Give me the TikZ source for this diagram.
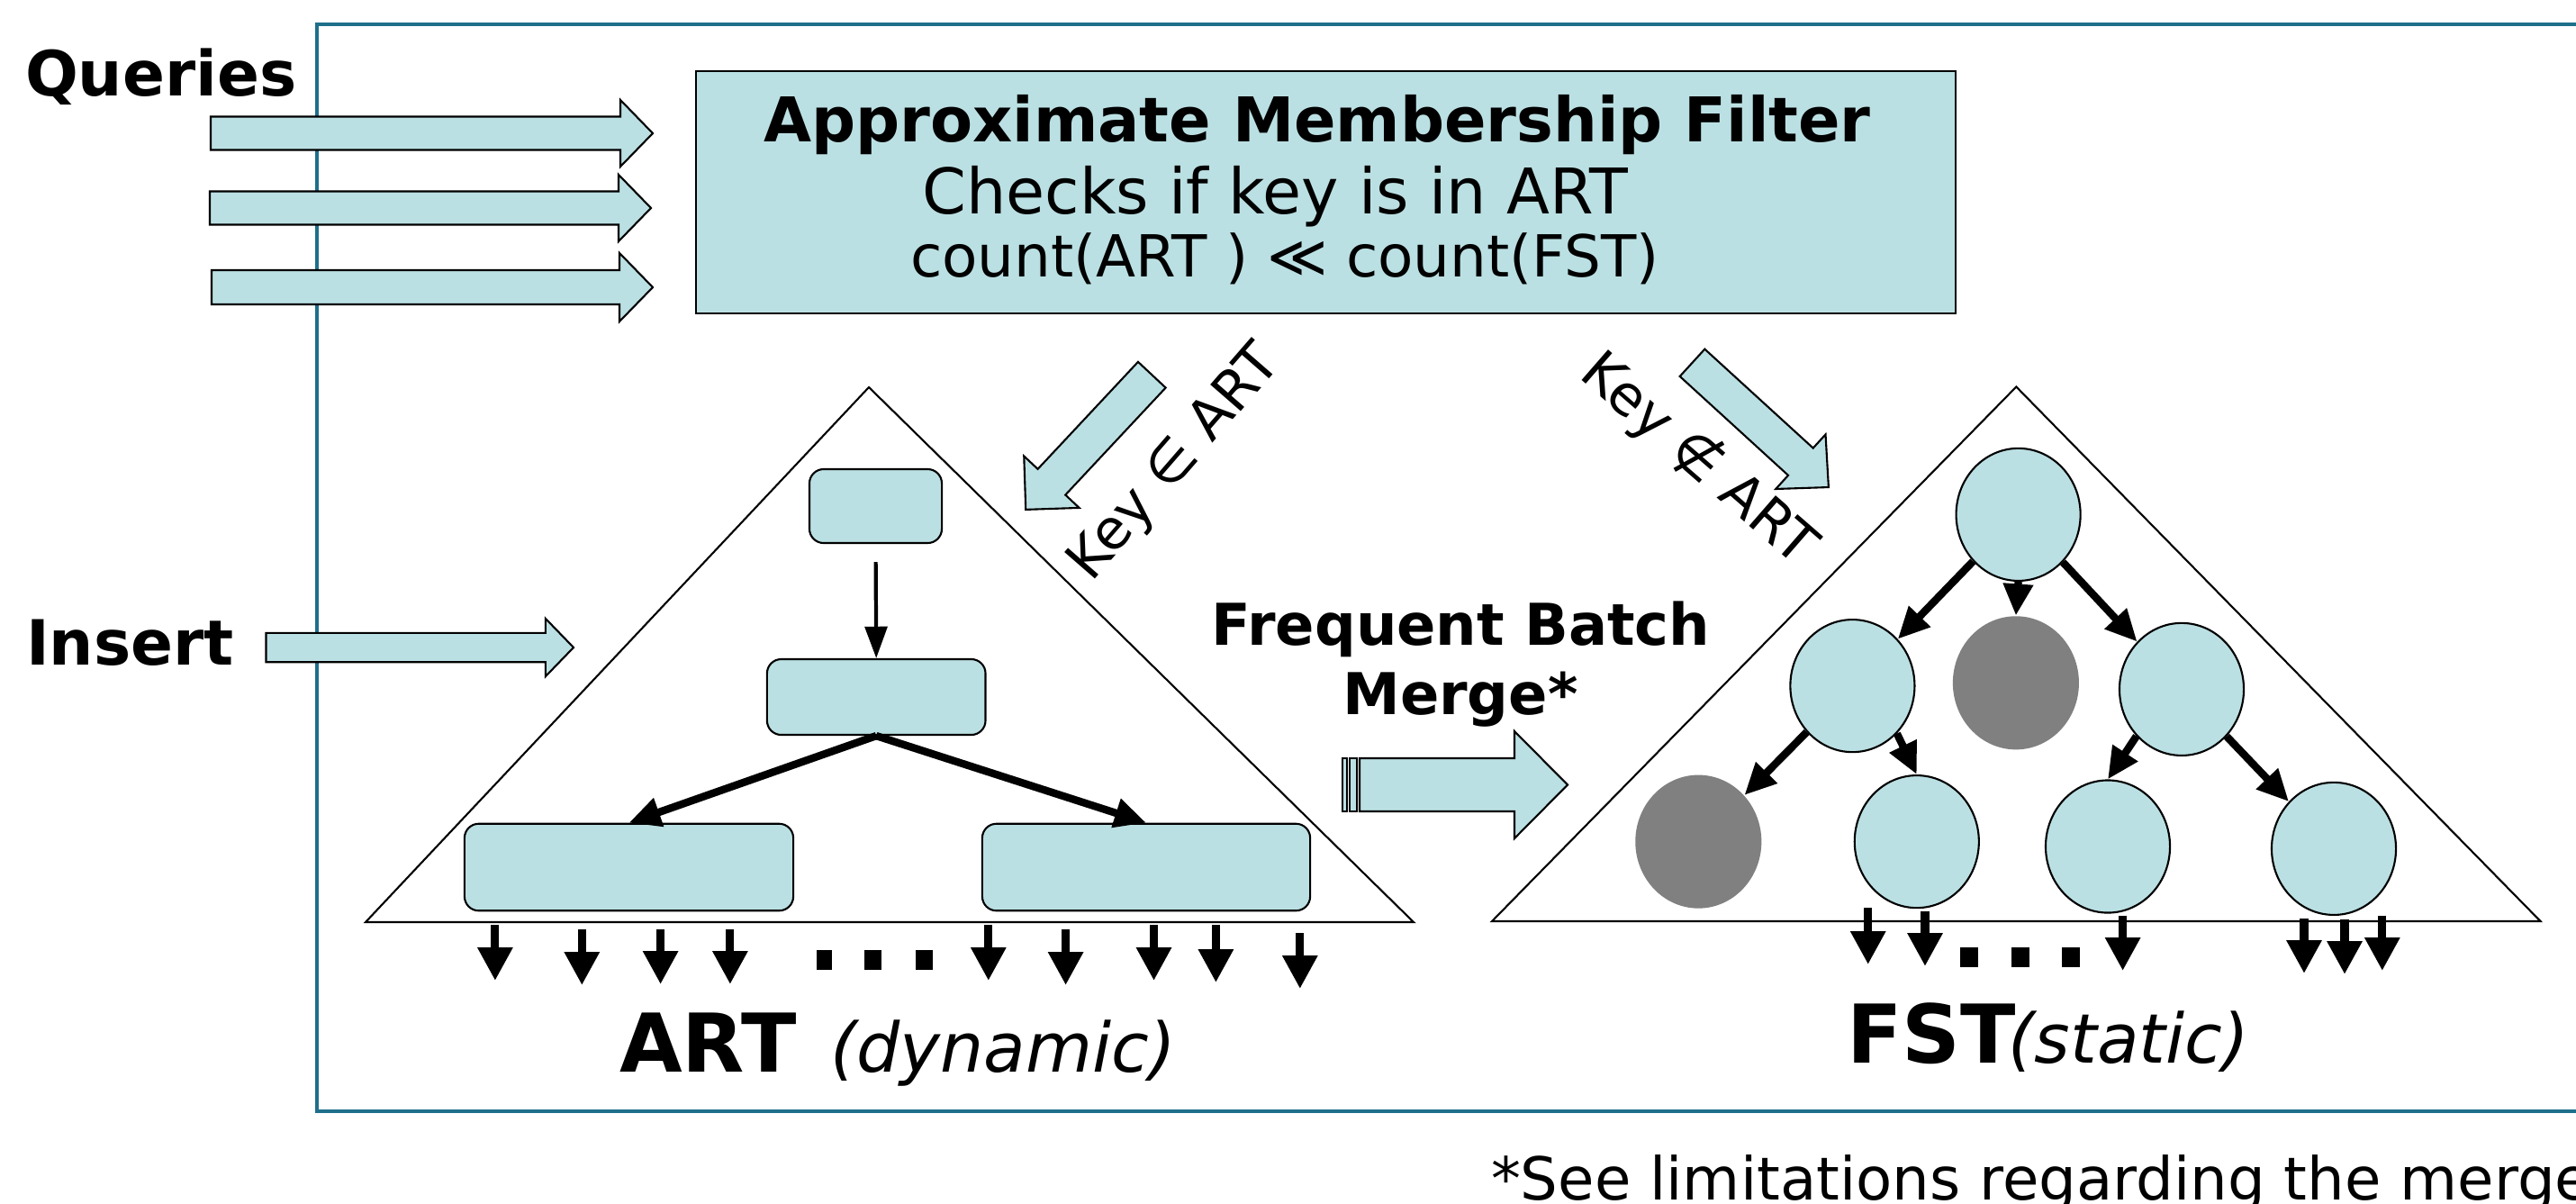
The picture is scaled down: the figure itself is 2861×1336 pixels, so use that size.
\documentclass[tikz,border=0pt]{standalone}
\usepackage{fontspec}
\setmainfont{DejaVu Sans}
\usetikzlibrary{arrows.meta,shapes.geometric}

\definecolor{boxfill}{HTML}{BBE0E3}
\definecolor{framecol}{HTML}{1F6F8B}
\definecolor{leafgrey}{HTML}{808080}

\tikzset{
  txt/.style={inner sep=0pt, outer sep=0pt},
  bigbold/.style={txt, font=\bfseries\fontsize{19.7pt}{24pt}\selectfont},
  arrowbody/.style={draw=black, fill=boxfill, line width=0.6pt, line join=miter},
  artbox/.style={draw=black, fill=boxfill, line width=0.6pt, rounded corners=4.5pt, inner sep=0pt},
  fstnode/.style={ellipse, draw=black, fill=boxfill, line width=0.6pt, inner sep=0pt,
                  minimum width=1.38cm, minimum height=1.47cm},
  fstgone/.style={ellipse, draw=none, fill=leafgrey, inner sep=0pt,
                  minimum width=1.40cm, minimum height=1.48cm},
  treeside/.style={draw=black, line width=0.6pt, line join=miter},
  thinlink/.style={draw=black, line width=1.2pt, -{Triangle[length=10pt,width=7pt]}},
  thicklink/.style={draw=black, line width=2.4pt, -{Triangle[length=10pt,width=9pt]}},
  leafarrow/.style={draw=black, line width=2.6pt, -{Triangle[length=10.5pt,width=10.5pt]}},
  dotmark/.style={fill=black},
  pics/blockarrow/.style n args={4}{code={
    \draw[arrowbody] (0,-#2) -- ({#1-#4},-#2) -- ({#1-#4},-#3) -- (#1,0)
      -- ({#1-#4},#3) -- ({#1-#4},#2) -- (0,#2) -- cycle;
  }}
}

\begin{document}
\begin{tikzpicture}[x=0.01cm, y=-0.01cm]
\useasboundingbox (0,0) rectangle (2861,1336);

% outer frame, open on the right
\draw[framecol, line width=0.9pt] (2900,27) -- (352,27) -- (352,1234) -- (2900,1234);

% side labels
\node[bigbold, anchor=base west] (queries) at (28,106) {Queries};
\node[bigbold, anchor=base west] (insert) at (29,738) {Insert};

% query arrows
\pic at (234,148) {blockarrow={491}{18.5}{37}{36}};
\pic at (233,231) {blockarrow={490}{18.5}{37}{36}};
\pic at (235,319) {blockarrow={490}{19}{38}{37}};

% insert arrow
\pic at (295.5,719) {blockarrow={341.5}{16.2}{32.2}{31.2}};

% approximate membership filter
\node[draw=black, fill=boxfill, line width=0.6pt, inner sep=0pt,
      minimum width=13.99cm, minimum height=2.69cm] (amf) at (1472.5,213.5) {};
\node[txt, anchor=base, font=\bfseries\fontsize{19.5pt}{23pt}\selectfont] (amftitle) at (1463,157) {Approximate Membership Filter};
\node[txt, anchor=base, font=\fontsize{19.9pt}{23pt}\selectfont] (amfline) at (1416,237) {Checks if key is in ART};
\node[txt, anchor=base, font=\fontsize{18.3pt}{22pt}\selectfont] (amfcount) at (1427,307) {count(ART ) ≪ count(FST)};

% routing arrows out of the filter
\pic[rotate=-133.1] at (1279.3,416.2) {blockarrow={205}{21}{42}{42}};
\pic[rotate=-42.4] at (1879.5,402.8) {blockarrow={205}{20.5}{41}{42}};
\node[txt, rotate=49, font=\fontsize{17.5pt}{20pt}\selectfont] (keyin) at (1306,515) {Key ∈ ART};
\node[txt, rotate=-41, font=\fontsize{17.5pt}{20pt}\selectfont] (keyout) at (1887,510) {Key ∉ ART};

% ART triangle and nodes
\draw[treeside] (406,1024) -- (965,430) -- (1570,1024) -- cycle;
\node[artbox, minimum width=1.47cm, minimum height=0.82cm] (a1) at (972.5,562) {};
\node[artbox, minimum width=2.425cm, minimum height=0.84cm] (a2) at (973.2,774) {};
\node[artbox, minimum width=3.65cm, minimum height=0.965cm] (b1) at (698.5,963) {};
\node[artbox, minimum width=3.64cm, minimum height=0.965cm] (b2) at (1273,963) {};
\draw[thinlink, shorten <=0.2cm] (a1.south) -- (a2.north);
\draw[thicklink] (a2.south) -- (b1.north);
\draw[thicklink] (a2.south) -- (b2.north);

% ART leaves
\foreach \x/\ya/\yb [count=\i] in {549.9/1027/1089, 646.3/1031.7/1094, 733.6/1031.7/1093,
    810.9/1031.7/1093, 1097.8/1027/1089, 1183.6/1031.7/1094, 1281.5/1027/1089,
    1350.4/1027/1091, 1443.8/1036/1098} {
  \coordinate (artTop\i) at (\x,\ya);
  \coordinate (artTip\i) at (\x,\yb);
  \draw[leafarrow] (artTop\i) -- (artTip\i);
}
\fill[dotmark] (906.5,1055) rectangle (923.5,1077);
\fill[dotmark] (959.5,1055) rectangle (978.5,1077);
\fill[dotmark] (1017,1055) rectangle (1036,1077);

\node[txt, anchor=base west, font=\bfseries\fontsize{25.6pt}{30pt}\selectfont] (artname) at (688,1190) {ART};
\node[txt, anchor=base west, font=\itshape\fontsize{21.6pt}{25pt}\selectfont] (artkind) at (922,1190) {(dynamic)};

% merge arrow with its striped tail
\draw[arrowbody] (1491,842) rectangle (1496,901);
\draw[arrowbody] (1499,842) rectangle (1507,901);
\pic at (1510,871.5) {blockarrow={231}{29.5}{59.5}{59}};
\node[txt, anchor=base, font=\bfseries\fontsize{18.2pt}{22pt}\selectfont] (mergeA) at (1622.5,716.7) {Frequent Batch};
\node[txt, anchor=base, font=\bfseries\fontsize{18.2pt}{22pt}\selectfont] (mergeB) at (1622,793) {Merge*};

% FST triangle and nodes
\draw[treeside] (1657,1023) -- (2239.3,429.5) -- (2821.5,1023) -- cycle;
\node[fstnode] (r) at (2241.6,571.4) {};
\node[fstnode] (l2a) at (2057.4,761.6) {};
\node[fstgone] (l2b) at (2238.9,758.3) {};
\node[fstnode] (l2c) at (2423,765.4) {};
\node[fstgone] (c1) at (1886.3,934.6) {};
\node[fstnode] (c2) at (2128.8,934.6) {};
\node[fstnode] (c3) at (2341,940) {};
\node[fstnode] (c4) at (2592,942.4) {};
\draw[thicklink] (r) -- (l2a);
\draw[thicklink] (r.south) -- (l2b.north);
\draw[thicklink] (r) -- (l2c);
\draw[thicklink] (l2a) -- (c1);
\draw[thicklink] (l2a.-47) -- (c2.north);
\draw[thicklink] (l2c.-134) -- (c3.north);
\draw[thicklink] (l2c) -- (c4);

% FST leaves
\foreach \x/\ya/\yb [count=\i] in {2074.7/1008/1071, 2138/1011.7/1073, 2357.6/1016.7/1078,
    2559/1020/1081, 2604/1020.7/1082, 2645.8/1016.7/1078} {
  \coordinate (fstTop\i) at (\x,\ya);
  \coordinate (fstTip\i) at (\x,\yb);
  \draw[leafarrow] (fstTop\i) -- (fstTip\i);
}
\fill[dotmark] (2177,1052.3) rectangle (2197,1074);
\fill[dotmark] (2233.5,1052.3) rectangle (2253.5,1074);
\fill[dotmark] (2290,1052.3) rectangle (2310,1074);

\node[txt, anchor=base west, font=\bfseries\fontsize{25.6pt}{30pt}\selectfont] (fstname) at (2051,1180) {FST};
\node[txt, anchor=base west, font=\itshape\fontsize{21.6pt}{25pt}\selectfont] (fstkind) at (2230,1180) {(static)};

% footnote
\node[txt, anchor=base west, font=\fontsize{18.7pt}{22pt}\selectfont] (note) at (1656,1332) {*See limitations regarding the merge};
\end{tikzpicture}
\end{document}
